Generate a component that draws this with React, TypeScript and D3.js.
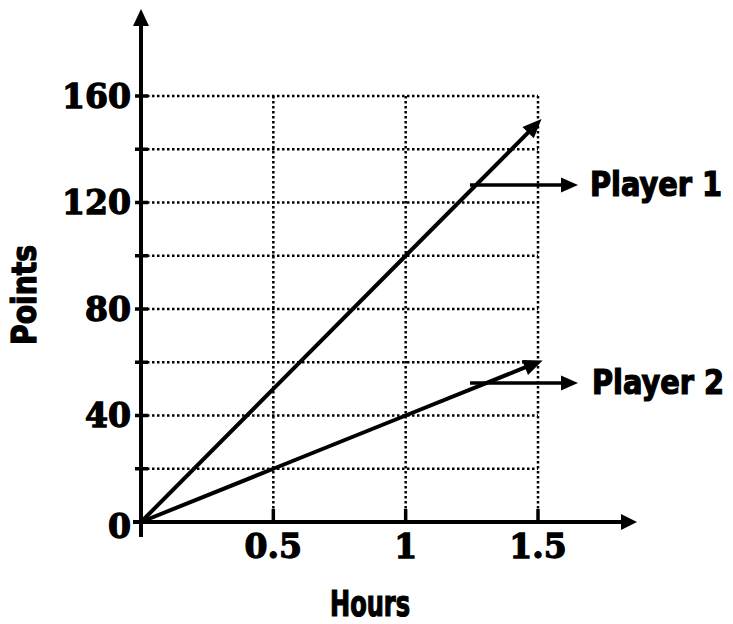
import React from "react";
import * as d3 from "d3";

const hours = [0, 0.5, 1, 1.5];
const player1 = [0, 50, 100, 150];
const player2 = [0, 20, 40, 60];
const yTickLabels = [0, 40, 80, 120, 160];
const yGridValues = [20, 40, 60, 80, 100, 120, 140, 160];
const xTickLabels = [0.5, 1, 1.5];
const seriesNames = ["Player 1", "Player 2"];

const W = 733;
const H = 624;

const x = d3.scaleLinear().domain([0, 1.5]).range([141, 538]);
const y = d3.scaleLinear().domain([0, 160]).range([522, 96]);

const serif = "'DejaVu Serif', serif";
const heavy = "'DejaVu Sans Condensed', 'DejaVu Sans', sans-serif";

function arrowHead(tx: number, ty: number, angle: number, len: number, half: number) {
  const c = Math.cos(angle), s = Math.sin(angle);
  const bx = tx - c * len, by = ty - s * len;
  const p1 = [bx - s * half, by + c * half];
  const p2 = [bx + s * half, by - c * half];
  return `M${tx},${ty}L${p1[0]},${p1[1]}L${p2[0]},${p2[1]}Z`;
}

function SeriesLine({ vals }: { vals: number[] }) {
  const pts = hours.map((h, i) => [x(h), y(vals[i])] as [number, number]);
  const line = d3.line();
  const a = pts[pts.length - 1];
  const b = pts[pts.length - 2];
  const ang = Math.atan2(a[1] - b[1], a[0] - b[0]);
  const tip: [number, number] = [a[0] + Math.cos(ang) * 5, a[1] + Math.sin(ang) * 5];
  const len = 19;
  const shaft = [...pts.slice(0, -1), [tip[0] - Math.cos(ang) * (len - 2), tip[1] - Math.sin(ang) * (len - 2)] as [number, number]];
  return (
    <g>
      <path d={line(shaft) || ""} fill="none" stroke="#000" strokeWidth={4} />
      <path d={arrowHead(tip[0], tip[1], ang, len, 8)} fill="#000" />
    </g>
  );
}

export default function App() {
  const labelY = [185, 383];
  return (
    <svg width={W} height={H} style={{ position: "absolute", left: 0, top: 0, background: "#fff" }}>
      {/* horizontal dotted grid */}
      {yGridValues.map((v) => (
        <line key={"h" + v} x1={x(0) + 6} x2={x(1.5)} y1={y(v)} y2={y(v)} stroke="#000" strokeWidth={2.5} strokeDasharray="2.5,2.5" />
      ))}
      {/* vertical dotted grid */}
      {xTickLabels.map((v) => (
        <g key={"v" + v}>
          <line x1={x(v)} x2={x(v)} y1={y(160)} y2={y(0) - 12} stroke="#000" strokeWidth={2.5} strokeDasharray="2.5,2.5" />
          <line x1={x(v)} x2={x(v)} y1={y(0) - 13} y2={y(0)} stroke="#000" strokeWidth={3.5} />
        </g>
      ))}
      {/* y ticks */}
      {yGridValues.map((v) => (
        <line key={"t" + v} x1={x(0) - 6} x2={x(0) + 7} y1={y(v)} y2={y(v)} stroke="#000" strokeWidth={3.5} />
      ))}
      {/* axes */}
      <line x1={x(0)} x2={x(0)} y1={y(0) + 15} y2={24} stroke="#000" strokeWidth={4} />
      <path d={arrowHead(x(0), 9, -Math.PI / 2, 17, 8)} fill="#000" />
      <line x1={x(0) - 8} x2={624} y1={y(0)} y2={y(0)} stroke="#000" strokeWidth={4} />
      <path d={arrowHead(637, y(0), 0, 16, 8)} fill="#000" />
      {/* series */}
      <SeriesLine vals={player1} />
      <SeriesLine vals={player2} />
      {/* annotation arrows */}
      {seriesNames.map((n, i) => (
        <g key={n}>
          <line x1={470} x2={563} y1={labelY[i]} y2={labelY[i]} stroke="#000" strokeWidth={3.5} />
          <path d={arrowHead(578, labelY[i], 0, 17, 7.5)} fill="#000" />
          <text x={590 + i * 2} y={labelY[i] + 11} fontFamily={heavy} fontWeight="bold" fontSize={34} fill="#000" stroke="#000" strokeWidth={1.2} textLength={132} lengthAdjust="spacingAndGlyphs">{n}</text>
        </g>
      ))}
      {/* y tick labels */}
      {yTickLabels.map((v) => (
        <text key={"yl" + v} x={131} y={y(v) + (v === 0 ? 4 : 0)} dy="0.36em" textAnchor="end" fontFamily={serif} fontWeight="bold" fontSize={33} fill="#000" stroke="#000" strokeWidth={1.3}>{v}</text>
      ))}
      {/* x tick labels */}
      {xTickLabels.map((v) => (
        <text key={"xl" + v} x={x(v)} y={558} textAnchor="middle" fontFamily={serif} fontWeight="bold" fontSize={33} fill="#000" stroke="#000" strokeWidth={1.3}>{v}</text>
      ))}
      {/* axis titles */}
      <text x={370} y={616} textAnchor="middle" fontFamily={heavy} fontWeight="bold" fontSize={35} fill="#000" stroke="#000" strokeWidth={1.2} textLength={80} lengthAdjust="spacingAndGlyphs">Hours</text>
      <text transform="translate(36,295) rotate(-90)" textAnchor="middle" fontFamily={heavy} fontWeight="bold" fontSize={34} fill="#000" stroke="#000" strokeWidth={1.2} textLength={100} lengthAdjust="spacingAndGlyphs">Points</text>
    </svg>
  );
}
